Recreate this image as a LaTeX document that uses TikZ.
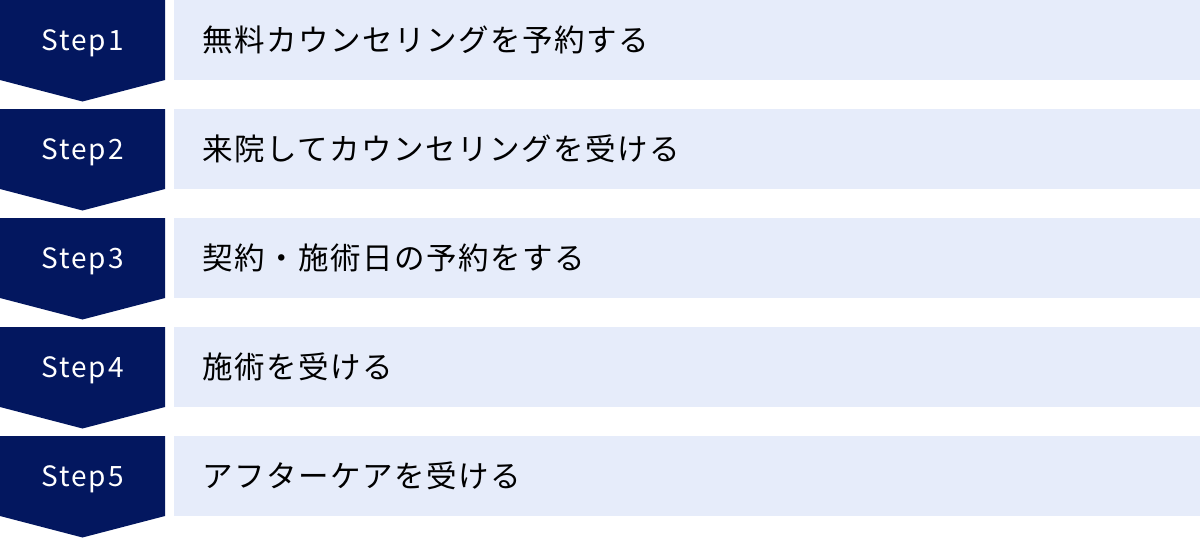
\documentclass[tikz,border=0pt]{standalone}
\usepackage{fontspec}
\newfontfamily\jpfont[LetterSpace=5]{Noto Sans CJK JP}
\newfontfamily\stepfont[LetterSpace=7]{Noto Sans CJK JP}
\definecolor{navy}{RGB}{3,23,95}
\definecolor{paleblue}{RGB}{230,236,250}

\begin{document}
\begin{tikzpicture}[x=1pt, y=-1pt,
    label/.style = {text=white, font=\stepfont\fontsize{28}{28}\selectfont, inner sep=0pt},
    task/.style = {fill=paleblue, anchor=north west, minimum width=1026pt, minimum height=80pt,
                   text width=970pt, inner xsep=28pt, inner ysep=0pt, align=left,
                   font=\jpfont\fontsize{30.5}{30.5}\selectfont}]
            \useasboundingbox (0,0) rectangle (1200,538);
            \foreach \txt [count=\i] in {無料カウンセリングを予約する, 来院してカウンセリングを受ける,
                                          契約・施術日の予約をする, 施術を受ける, アフターケアを受ける} {
                \begin{scope}[shift={(0, {109*(\i-1)})}]
                    \fill[navy] (0,0) -- (165,0) -- (165,80) -- (82.5,101.5) -- (0,80) -- cycle;
                    \node[label] (step\i) at (82.5, 43) {Step\i};

                    \node[task] (task\i) at (174, 0) {\txt};
                \end{scope}
            }
        \end{tikzpicture}
\end{document}
